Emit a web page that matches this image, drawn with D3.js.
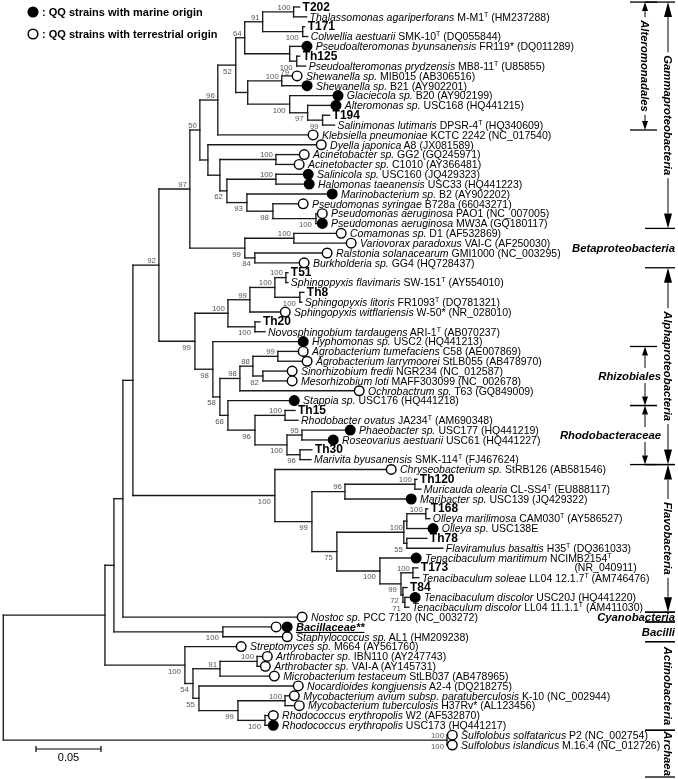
<!DOCTYPE html>
<html><head><meta charset="utf-8">
<script src="https://cdn.jsdelivr.net/npm/d3@7/dist/d3.min.js"></script>
<style>
html,body{margin:0;padding:0;background:#fff;}
svg{display:block;font-family:"Liberation Sans",Arial,Helvetica,sans-serif;filter:grayscale(100%);}
</style></head><body>
<svg id="chart" width="678" height="779"></svg>
<script>
// ---------------- DATA ----------------
// Newick pieces (branch lengths in substitutions/site, internal labels = bootstrap %)
const nwAlteromonadales = "((((T202:0.0046,Thal:0.0100)100:0.0238,(T171:0.0015,Colw:0.0038)100:0.0308)91:0.0138,(Pbyu:0.0096,(Th125:0.0023,Ppry:0.0069)100:0.0054)79:0.0346)64:0.0069,((ShMIB:0.0081,ShB21:0.0158)100:0.0262,(Glac:0.0335,(Alt:0.0181,(T194:0.0054,Salm:0.0092)99:0.0115)97:0.0138)100:0.0323):0.0092)52:0.0138";
const nwGammaRest = "(Dyel:0.0835,((AcGG2:0.0181,AcC10:0.0142)100:0.0431,((Salc:0.0212,Halo:0.0219)100:0.0377,(Mari:0.0619,(Psyr:0.0196,(PAO1:0.0012,MW3A:0.0012)100:0.0331)98:0.0200)93:0.0154)62:0.0054):0.0092):0.0062";
const nwGamma = `((${nwAlteromonadales},Kleb:0.0696)96:0.0138,${nwGammaRest})50:0.0077`;
const nwBeta = "((Coma:0.0327,Vari:0.0404)100:0.0377,(Rals:0.0519,Burk:0.0342)84:0.0077)99:0.0423";
const nwSphingo = "((((T51:0.0015,Sfla:0.0015)100:0.0085,(Th8:0.0031,Slit:0.0015)100:0.0192)100:0.0192,Switf:0.0235)99:0.0169,(Th20:0.0038,Novo:0.0077)100:0.0208)100:0.0254";
const nwRhizoRhodo = "(Hyph:0.0658,((((Agtu:0.0158,Agla:0.0188)99:0.0192,(Sino:0.0188,Meso:0.0188)82:0.0077)88:0.0100,Ochr:0.0881)98:0.0154,(Stap:0.0473,((Th15:0.0077,Rhov:0.0100)100:0.0231,((Phae:0.0335,Rose:0.0204)95:0.0115,(Th30:0.0092,Mariv:0.0085)96:0.0100)100:0.0246)96:0.0208)68:0.0062)58:0.0054)98:0.0138";
const nwAlpha = `(${nwSphingo},${nwRhizoRhodo})99:0.0277`;
const nwFlavo = "(Chry:0.0858,(((Th120:0.0015,Muri:0.0046)100:0.0538,Marib:0.0473)96:0.0254,((((T168:0.0015,Olma:0.0031)100:0.0146,Olsp:0.0165)100:0.0023,(Th78:0.0154,Flav:0.0277)55:0.0023):0.0515,(Tmar:0.0242,((T173:0.0038,Tsol:0.0046)100:0.0092,(T84:0.0031,(Tdis:0.0042,TdLL:0.0031)71:0.0015)72:0.0015)99:0.0162)100:0.0331)75:0.0192)99:0.0285)100:0.1092";
const nwBacilli = "(Baci:0.0373,Stap2:0.0458)100:0.0838";
const nwActino = "(Strep:0.0396,(((ArIBN:0.0042,ArVAI:0.0027)100:0.0285,Micr:0.0381)91:0.0208,(Noca:0.0727,((Myav:0.0035,Mytb:0.0073)100:0.0362,(RhW2:0.0027,RhUSC:0.0027)100:0.0208)99:0.0300)55:0.0046)54:0.0062)100:0.0615";
const nwArchaea = "(Sso:0.0004,Sis:0.0004)100:0.3413";
const newick = `(((((((${nwGamma},${nwBeta})97:0.0238,${nwAlpha})92:0.0200,${nwFlavo}):0.0077,Nost:0.1342):0.0069,${nwBacilli}):0.0069,${nwActino}):0.0782,${nwArchaea});`;

// leaf labels: [id, origin (m = marine, t = terrestrial), italic name, strain, type mark, accession]
const leafTable = [
["T202","",null,"T202"],
["Thal","","Thalassomonas agariperforans"," M-M1","T"," (HM237288)"],
["T171","",null,"T171"],
["Colw","","Colwellia aestuarii"," SMK-10","T"," (DQ055844)"],
["Pbyu","m","Pseudoalteromonas byunsanensis"," FR119* (DQ011289)","",""],
["Th125","",null,"Th125"],
["Ppry","","Pseudoalteromonas prydzensis"," MB8-11","T"," (U85855)"],
["ShMIB","t","Shewanella sp."," MIB015 (AB306516)","",""],
["ShB21","m","Shewanella sp."," B21 (AY902201)","",""],
["Glac","m","Glaciecola sp."," B20 (AY902199)","",""],
["Alt","m","Alteromonas sp."," USC168 (HQ441215)","",""],
["T194","",null,"T194"],
["Salm","","Salinimonas lutimaris"," DPSR-4","T"," (HQ340609)"],
["Kleb","t","Klebsiella pneumoniae"," KCTC 2242 (NC_017540)","",""],
["Dyel","t","Dyella japonica"," A8 (JX081589)","",""],
["AcGG2","t","Acinetobacter sp."," GG2 (GQ245971)","",""],
["AcC10","t","Acinetobacter sp."," C1010 (AY366481)","",""],
["Salc","m","Salinicola sp."," USC160 (JQ429323)","",""],
["Halo","m","Halomonas taeanensis"," USC33 (HQ441223)","",""],
["Mari","m","Marinobacterium sp."," B2 (AY902202)","",""],
["Psyr","t","Pseudomonas syringae"," B728a (66043271)","",""],
["PAO1","t","Pseudomonas aeruginosa"," PAO1 (NC_007005)","",""],
["MW3A","m","Pseudomonas aeruginosa"," MW3A (GQ180117)","",""],
["Coma","t","Comamonas sp."," D1 (AF532869)","",""],
["Vari","t","Variovorax paradoxus"," VAI-C (AF250030)","",""],
["Rals","t","Ralstonia solanacearum"," GMI1000 (NC_003295)","",""],
["Burk","t","Burkholderia sp."," GG4 (HQ728437)","",""],
["T51","",null,"T51"],
["Sfla","","Sphingopyxis flavimaris"," SW-151","T"," (AY554010)"],
["Th8","",null,"Th8"],
["Slit","","Sphingopyxis litoris"," FR1093","T"," (DQ781321)"],
["Switf","t","Sphingopyxis witflariensis"," W-50* (NR_028010)","",""],
["Th20","",null,"Th20"],
["Novo","","Novosphingobium tardaugens"," ARI-1","T"," (AB070237)"],
["Hyph","m","Hyphomonas sp."," USC2 (HQ441213)","",""],
["Agtu","t","Agrobacterium tumefaciens"," C58 (AE007869)","",""],
["Agla","t","Agrobacterium larrymoorei"," StLB055 (AB478970)","",""],
["Sino","t","Sinorhizobium fredii"," NGR234 (NC_012587)","",""],
["Meso","t","Mesorhizobium loti"," MAFF303099 (NC_002678)","",""],
["Ochr","t","Ochrobactrum sp."," T63 (GQ849009)","",""],
["Stap","m","Stappia sp."," USC176 (HQ441218)","",""],
["Th15","",null,"Th15"],
["Rhov","","Rhodobacter ovatus"," JA234","T"," (AM690348)"],
["Phae","m","Phaeobacter sp."," USC177 (HQ441219)","",""],
["Rose","m","Roseovarius aestuarii"," USC61 (HQ441227)","",""],
["Th30","",null,"Th30"],
["Mariv","","Marivita byusanensis"," SMK-114","T"," (FJ467624)"],
["Chry","t","Chryseobacterium sp."," StRB126 (AB581546)","",""],
["Th120","",null,"Th120"],
["Muri","","Muricauda olearia"," CL-SS4","T"," (EU888117)"],
["Marib","m","Maribacter sp."," USC139 (JQ429322)","",""],
["T168","",null,"T168"],
["Olma","","Olleya marilimosa"," CAM030","T"," (AY586527)"],
["Olsp","m","Olleya sp."," USC138E","",""],
["Th78","",null,"Th78"],
["Flav","","Flaviramulus basaltis"," H35","T"," (DQ361033)"],
["Tmar","m","Tenacibaculum maritimum"," NCIMB2154","T","(NR_040911)"],
["T173","",null,"T173"],
["Tsol","","Tenacibaculum soleae"," LL04 12.1.7","T"," (AM746476)"],
["T84","",null,"T84"],
["Tdis","m","Tenacibaculum discolor"," USC20J (HQ441220)","",""],
["TdLL","","Tenacibaculum discolor"," LL04 11.1.1","T"," (AM411030)"],
["Nost","t","Nostoc sp."," PCC 7120 (NC_003272)","",""],
["Baci","tm","Bacillaceae**","","",""],
["Stap2","t","Staphylococcus sp."," AL1 (HM209238)","",""],
["Strep","t","Streptomyces sp."," M664 (AY561760)","",""],
["ArIBN","t","Arthrobacter sp."," IBN110 (AY247743)","",""],
["ArVAI","t","Arthrobacter sp."," VAI-A (AY145731)","",""],
["Micr","t","Microbacterium testaceum"," StLB037 (AB478965)","",""],
["Noca","t","Nocardioides kongjuensis"," A2-4 (DQ218275)","",""],
["Myav","t","Mycobacterium avium subsp. paratuberculosis"," K-10 (NC_002944)","",""],
["Mytb","t","Mycobacterium tuberculosis"," H37Rv* (AL123456)","",""],
["RhW2","t","Rhodococcus erythropolis"," W2 (AF532870)","",""],
["RhUSC","m","Rhodococcus erythropolis"," USC173 (HQ441217)","",""],
["Sso","t","Sulfolobus solfataricus"," P2 (NC_002754)","",""],
["Sis","t","Sulfolobus islandicus"," M.16.4 (NC_012726)","",""]
];
const twoLineLeaves = ["Tmar"];
const groupLeaves = ["Baci"];

// bootstrap label placement (key = first|last descendant leaf); default is above-left of the node
const bootBelow = ["T171|Colw","T202|Salm","Th125|Ppry","Glac|Salm","Alt|Salm","T194|Salm","PAO1|MW3A","Psyr|MW3A","Mari|MW3A","Salc|MW3A",
 "Rals|Burk","Coma|Burk","T51|Mariv","Th8|Slit","Th20|Novo","Hyph|Mariv","Agtu|Mariv","Sino|Meso","Stap|Mariv","Th15|Mariv","Phae|Mariv","Th30|Mariv",
 "Chry|TdLL","Th120|TdLL","T168|TdLL","T168|Olsp","Th78|Flav","Tmar|TdLL","T173|TdLL","T84|TdLL","Tdis|TdLL",
 "Baci|Stap2","Strep|RhUSC","ArIBN|RhUSC","Noca|RhUSC","Myav|RhUSC","RhW2|RhUSC"];
const bootBelowFar = ["Pbyu|Ppry"];
const bootBothSides = ["Sso|Sis"];

// clade annotations on the right
const cladeNames = ["Alteromonadales","Gammaproteobacteria","Betaproteobacteria","Alphaproteobacteria","Rhizobiales","Rhodobacteraceae","Flavobacteria","Cyanobacteria","Bacilli","Actinobacteria","Archaea"];
const cladeFrom  = ["T202","T202","Coma","T51","Agtu","Th15","Chry","Nost","Baci","Strep","Sso"];
const cladeTo    = ["Salm","MW3A","Burk","Mariv","Stap","Mariv","TdLL","Nost","Stap2","RhUSC","Sis"];
const cladeKind  = ["arrowInner","arrowOuter","text","arrowOuter","arrowText","arrowText","arrowOuter","textBars","textBars","rotated","rotated"];

const legendOrigins = ["m","t"];
const legendLabels = [": QQ strains with marine origin", ": QQ strains with terrestrial origin"];
const scaleBarValue = 0.05;

// ---------------- PARSE ----------------
function parseNewick(s){
  let i = 0;
  function node(){
    const n = {};
    if (s[i] === "("){
      i++; n.children = [];
      while (true){
        n.children.push(node());
        if (s[i] === ","){ i++; continue; }
        break;
      }
      i++; // ')'
    }
    let name = "";
    while (i < s.length && !",():;".includes(s[i])) name += s[i++];
    n.name = name;
    n.length = 0;
    if (s[i] === ":"){
      i++; let l = "";
      while (i < s.length && !",();".includes(s[i])) l += s[i++];
      n.length = +l;
    }
    return n;
  }
  return node();
}

// ---------------- LAYOUT ----------------
const svg = d3.select("#chart");
const root = d3.hierarchy(parseNewick(newick), d => d.children);
root.eachBefore(d => { d.dist = d.parent ? d.parent.dist + d.data.length : 0; });
const leaves = root.leaves();
const x = d3.scaleLinear().domain([0, scaleBarValue]).range([3.3, 68.3]);
const y = d3.scaleLinear().domain([0, leaves.length - 1]).range([7, 745]);
const rowOf = new Map();
leaves.forEach((d, i) => { d.row = i; d.y = y(i); rowOf.set(d.data.name, i); });
root.eachAfter(d => { if (d.children) d.y = (d.children[0].y + d.children[d.children.length - 1].y) / 2; });
root.each(d => { d.x = x(d.dist); });

const INK = "#1b1b1b";
const LW = 1.35;
const FS = 10.5;
const CLADE_FS = 11.3;

// ---------------- BRANCHES ----------------
const gLinks = svg.append("g").attr("stroke", INK).attr("stroke-width", LW).attr("fill", "none").attr("stroke-linecap", "square");
root.descendants().filter(d => d.children).forEach(d => {
  const c0 = d.children[0], c1 = d.children[d.children.length - 1];
  gLinks.append("line").attr("x1", d.x).attr("x2", d.x).attr("y1", c0.y).attr("y2", c1.y);
  d.children.forEach(c => {
    gLinks.append("line").attr("x1", d.x).attr("x2", c.x).attr("y1", c.y).attr("y2", c.y);
  });
});

// ---------------- BOOTSTRAP ----------------
const gBoot = svg.append("g").attr("font-size", 7.8).attr("fill", "#555").attr("text-anchor", "end");
function bootText(xx, yy, s){ gBoot.append("text").attr("x", xx).attr("y", yy).text(s); }
root.descendants().filter(d => d.children && d.data.name).forEach(d => {
  const lv = d.leaves();
  const key = lv[0].data.name + "|" + lv[lv.length - 1].data.name;
  if (bootBothSides.includes(key)){
    bootText(d.x - 3, d.y - 2.2, d.data.name);
    bootText(d.x - 3, d.y + 8.5, d.data.name);
  } else if (bootBelowFar.includes(key)){
    bootText(d.x - 0.5, d.y + 21, d.data.name);
  } else if (bootBelow.includes(key)){
    bootText(d.x - 4, d.y + 8.5, d.data.name);
  } else {
    bootText(d.x - 3, d.y - 2.2, d.data.name);
  }
});

// ---------------- LEAVES ----------------
const info = new Map(leafTable.map(r => [r[0], r]));
const R = 4.8;
const gLeaf = svg.append("g");
leaves.forEach(d => {
  const [id, origin, ital, strain, sup, acc] = info.get(d.data.name);
  let tx = d.x + 3;
  if (origin){
    origin.split("").forEach((o, k) => {
      gLeaf.append("circle").attr("cx", d.x + R + k * 11).attr("cy", d.y).attr("r", R)
        .attr("fill", o === "m" ? "#000" : "#fff").attr("stroke", "#000").attr("stroke-width", 1.4);
    });
    tx = d.x + 2 * R + 11 * (origin.length - 1) + 4;
  }
  const t = gLeaf.append("text").attr("x", tx).attr("y", d.y).attr("dy", "0.36em").attr("font-size", FS).attr("fill", "#000");
  if (ital === null){
    t.attr("font-weight", "bold").attr("font-size", 12).attr("dy", "0.3em").text(strain);
  } else if (groupLeaves.includes(id)){
    t.attr("font-weight", "bold").attr("font-style", "italic").attr("font-size", 11)
      .attr("text-decoration", "underline").text(ital);
  } else {
    t.append("tspan").attr("font-style", "italic").text(ital);
    t.append("tspan").text(strain);
    if (sup) t.append("tspan").attr("font-size", 7).attr("dy", -4).text(sup);
    if (acc){
      if (twoLineLeaves.includes(id)){
        const endX = tx + t.node().getComputedTextLength();
        gLeaf.append("text").attr("x", endX - 6).attr("y", d.y + 9.5).attr("dy", "0.36em")
          .attr("font-size", FS).attr("text-anchor", "middle").text(acc);
      } else {
        t.append("tspan").attr("dy", sup ? 4 : 0).text(acc);
      }
    }
  }
});

// ---------------- CLADE ANNOTATIONS ----------------
const gCl = svg.append("g").attr("fill", "#000");
const bound = r => y(r);
function bar(x1, x2, yy){ gCl.append("line").attr("x1", x1).attr("x2", x2).attr("y1", yy).attr("y2", yy).attr("stroke", "#000").attr("stroke-width", 1.3); }
function arrow(ax, from, to, big){
  const dir = to > from ? 1 : -1;
  const headLen = big ? 15 : 9, hw = big ? 4 : 3;
  gCl.append("line").attr("x1", ax).attr("x2", ax).attr("y1", from).attr("y2", to - dir * headLen)
    .attr("stroke", "#000").attr("stroke-width", 1);
  gCl.append("path").attr("d", `M${ax},${to} L${ax - hw},${to - dir * headLen} L${ax + hw},${to - dir * headLen} Z`).attr("fill", "#000");
}
cladeNames.forEach((name, i) => {
  const r0 = rowOf.get(cladeFrom[i]), r1 = rowOf.get(cladeTo[i]);
  const top = bound(r0 - 0.5), bot = bound(r1 + 0.5);
  const mid = (top + bot) / 2;
  const kind = cladeKind[i];
  const txt = gCl.append("text").attr("font-weight", "bold").attr("font-style", "italic").attr("font-size", CLADE_FS).text(name);
  if (kind === "arrowOuter" || kind === "arrowInner" || kind === "rotated"){
    const ax = kind === "arrowInner" ? 645 : 668;
    txt.attr("text-anchor", "middle").attr("dy", "0.35em");
    const len = txt.node().getComputedTextLength();
    let cy = mid, b = bot;
    if (kind === "rotated" && len + 8 > bot - top){ b = Math.min(top + len + 6, 777); cy = (top + b) / 2; }
    txt.attr("transform", `translate(${ax},${cy}) rotate(90)`);
    if (kind === "arrowInner"){ bar(630, 657, top); bar(630, 657, b); }
    else { bar(645, 675, top); bar(645, 675, b); }
    if (kind !== "rotated"){
      const big = kind === "arrowOuter";
      arrow(ax, cy - len / 2 - 3, top, big);
      arrow(ax, cy + len / 2 + 3, b, big);
    }
  } else if (kind === "arrowText"){
    txt.attr("text-anchor", "end").attr("x", 661).attr("y", mid).attr("dy", "0.35em");
    bar(630, 657, top); bar(630, 657, bot);
    arrow(645, mid - 8, top, false);
    arrow(645, mid + 7, bot, false);
  } else {
    txt.attr("text-anchor", "end").attr("x", 675).attr("y", mid).attr("dy", "0.35em");
    if (kind === "textBars"){ bar(645, 675, top); bar(645, 675, bot); }
  }
});

// ---------------- LEGEND ----------------
const gLeg = svg.append("g");
legendOrigins.forEach((o, i) => {
  const ly = 12 + i * 22;
  gLeg.append("circle").attr("cx", 33).attr("cy", ly).attr("r", 4.8)
    .attr("fill", o === "m" ? "#000" : "#fff").attr("stroke", "#000").attr("stroke-width", 1.5);
  gLeg.append("text").attr("x", 42).attr("y", ly).attr("dy", "0.35em").attr("font-size", 11)
    .attr("font-weight", "bold").text(legendLabels[i]);
});

// ---------------- SCALE BAR ----------------
const sbX0 = 36, sbY = 749, sbLen = x(scaleBarValue) - x(0);
const gSb = svg.append("g").attr("stroke", "#000").attr("stroke-width", 1.2);
gSb.append("line").attr("x1", sbX0).attr("x2", sbX0 + sbLen).attr("y1", sbY).attr("y2", sbY);
gSb.append("line").attr("x1", sbX0).attr("x2", sbX0).attr("y1", sbY - 3).attr("y2", sbY + 3);
gSb.append("line").attr("x1", sbX0 + sbLen).attr("x2", sbX0 + sbLen).attr("y1", sbY - 3).attr("y2", sbY + 3);
svg.append("text").attr("x", sbX0 + sbLen / 2).attr("y", sbY + 12).attr("text-anchor", "middle")
  .attr("font-size", 11).text(d3.format(".2f")(scaleBarValue));
</script>
</body></html>
